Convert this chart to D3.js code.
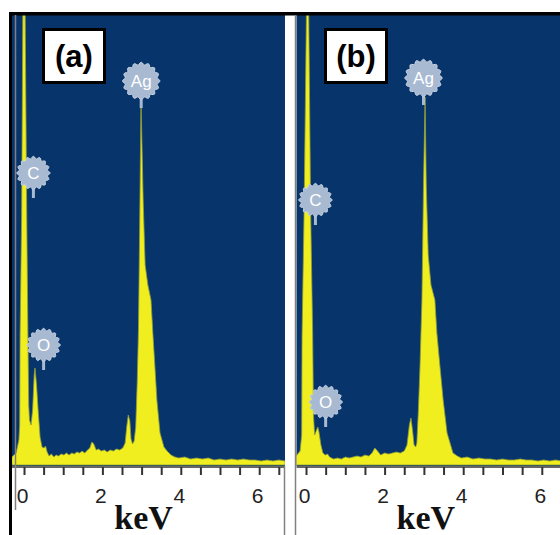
<!DOCTYPE html>
<html>
<head>
<meta charset="utf-8">
<script src="https://cdnjs.cloudflare.com/ajax/libs/d3/7.8.5/d3.min.js"></script>
<style>
  body { margin: 0; background: #fff; }
  svg { display: block; }
</style>
</head>
<body>
<div id="chart"></div>
<script>
// EDS spectrum (a): energy in keV, counts in arbitrary units
var energyA = [-0.31,-0.20,-0.13,-0.11,-0.10,-0.06,-0.03,0.00,0.03,0.07,0.10,0.12,0.14,0.18,0.22,0.26,0.28,0.32,0.36,0.41,0.46,0.51,
  0.55,0.59,0.64,0.70,0.76,0.82,0.88,0.95,1.02,1.08,1.15,1.22,1.28,1.35,1.42,1.48,1.55,1.62,1.68,1.73,
  1.78,1.84,1.90,1.97,2.05,2.12,2.20,2.28,2.36,2.44,2.52,2.58,2.62,2.66,2.70,2.73,2.77,2.81,2.85,2.89,
  2.92,2.95,2.985,3.04,3.09,3.16,3.24,3.29,3.34,3.39,3.47,3.57,3.65,3.75,3.85,3.95,4.10,4.25,4.40,4.55,
  4.70,4.85,5.00,5.15,5.30,5.45,5.60,5.75,5.90,6.05,6.20,6.35,6.50,6.66];
var countsA = [8,12,25,40,130,250,450,1200,450,250,130,60,45,40,55,90,97,80,55,28,18,17,
  19,13,9,11,8,10,9,11,10,12,10,12,11,13,12,14,12,15,17,23,
  21,15,16,14,15,13,15,14,16,15,17,22,38,50,44,26,21,24,38,85,
  135,235,365,265,200,180,165,130,98,65,32,18,14,10,8,7,8,6,7,6,
  7,5,6,5,6,5,6,5,5,4,5,4,5,4];

// EDS spectrum (b)
var energyB = [-0.27,-0.15,-0.11,-0.10,-0.05,0.01,0.04,0.07,0.12,0.17,0.19,0.22,0.26,0.30,0.33,0.38,0.43,0.49,0.55,0.60,
  0.70,0.80,0.90,1.00,1.10,1.20,1.30,1.40,1.50,1.60,1.68,1.75,1.82,1.90,2.00,2.10,2.20,2.30,2.40,2.50,
  2.57,2.63,2.67,2.71,2.75,2.79,2.82,2.86,2.90,2.95,2.99,3.03,3.06,3.11,3.18,3.28,3.33,3.41,3.49,3.59,
  3.74,3.85,3.95,4.10,4.25,4.40,4.55,4.70,4.85,5.00,5.15,5.30,5.45,5.60,5.75,5.90,6.05,6.20,6.35,6.50,
  6.65,6.75];
var countsB = [8,14,30,130,250,450,1200,450,250,130,50,30,34,38,33,20,12,10,11,8,
  6,7,6,8,7,8,9,8,10,9,12,17,14,10,12,11,12,13,12,14,
  20,40,47,35,20,18,22,55,98,165,280,368,280,210,180,165,132,98,65,32,
  12,9,7,8,6,7,6,6,5,6,5,5,6,5,5,4,5,4,5,4,
  4,4];

// element markers: energy and marker height (counts) in each panel
var elements = ["C", "O", "Ag"];
var elementEnergy = [0.24, 0.5, 2.99];
var markerCountsA = [292, 120, 384];
var markerCountsB = [265, 63, 387];

// x axis ticks every 0.5 keV, labels on even values
var tickValues = [0, 0.5, 1, 1.5, 2, 2.5, 3, 3.5, 4, 4.5, 5, 5.5, 6, 6.5];
var labelledTicks = [0, 2, 4, 6];
var panelNames = ["(a)", "(b)"];

var svgWidth = 560;
var svgHeight = 535;
var plotTop = 15;
var plotBottom = 466;

var svg = d3.select("#chart")
  .append("svg")
  .attr("width", svgWidth)
  .attr("height", svgHeight);

svg.append("rect")
  .attr("width", svgWidth)
  .attr("height", svgHeight)
  .attr("fill", "#fff");

// y scale shared by both spectra
var yScale = d3.scaleLinear()
  .domain([0, 450])
  .range([465, plotTop]);

var panels = [
  { name: panelNames[0], x0: 24, kev: 39.2, left: 12, right: 285, energy: energyA, counts: countsA, markers: markerCountsA },
  { name: panelNames[1], x0: 306, kev: 39.3, left: 296.5, right: 570, energy: energyB, counts: countsB, markers: markerCountsB }
];

// scalloped marker shape like the EDS label badges
function badgePath(r) {
  var pts = d3.range(0, 96).map(function(i) {
    var a = i / 96 * 2 * Math.PI;
    return [a, r + 1.2 * Math.cos(16 * a)];
  });
  return d3.lineRadial().curve(d3.curveCardinalClosed)(pts);
}

panels.forEach(function(p, pi) {
  var xScale = d3.scaleLinear()
    .domain([0, 6])
    .range([p.x0, p.x0 + 6 * p.kev]);

  var g = svg.append("g");

  // clip for the plot area
  var clipId = "clip" + pi;
  svg.append("clipPath")
    .attr("id", clipId)
    .append("rect")
    .attr("x", p.left)
    .attr("y", plotTop)
    .attr("width", p.right - p.left)
    .attr("height", plotBottom - plotTop);

  // dark blue background
  g.append("rect")
    .attr("x", p.left)
    .attr("y", plotTop)
    .attr("width", p.right - p.left)
    .attr("height", plotBottom - plotTop)
    .attr("fill", "#07356b");

  var data = p.energy.map(function(e, i) { return { e: e, c: p.counts[i] }; });

  var area = d3.area()
    .x(d => xScale(d.e))
    .y0(yScale(0))
    .y1(d => yScale(d.c));

  g.append("path")
    .datum(data)
    .attr("clip-path", "url(#" + clipId + ")")
    .attr("d", area)
    .attr("fill", "#f0ee1e")
    .attr("stroke", "#8d9a3c")
    .attr("stroke-width", 0.8);

  // element badges
  var badges = g.selectAll(".badge")
    .data(elements.map(function(el, i) { return { el: el, e: elementEnergy[i], c: p.markers[i] }; }))
    .enter()
    .append("g")
    .attr("class", "badge")
    .attr("transform", d => `translate(${xScale(d.e)}, ${yScale(d.c)})`);

  badges.append("line")
    .attr("x1", 0).attr("x2", 0)
    .attr("y1", 10)
    .attr("y2", d => (d.el === "Ag" ? 18 : 16) + 9)
    .attr("stroke", "#a8b9d2")
    .attr("stroke-width", 3);

  badges.append("path")
    .attr("d", d => badgePath(d.el === "Ag" ? 17.5 : 15.5))
    .attr("fill", "#a8b9d2")
    .attr("stroke", "#c9d4e4")
    .attr("stroke-width", 1);

  badges.append("text")
    .attr("text-anchor", "middle")
    .attr("dy", "0.36em")
    .attr("font-family", "Liberation Sans, Arial, sans-serif")
    .attr("font-size", "17px")
    .attr("fill", "#fff")
    .text(d => d.el);

  // panel label box
  g.append("rect")
    .attr("x", p.x0 + 19.5)
    .attr("y", 29.5)
    .attr("width", 61)
    .attr("height", 53)
    .attr("fill", "#fff")
    .attr("stroke", "#000")
    .attr("stroke-width", 3);

  g.append("text")
    .attr("x", p.x0 + 50)
    .attr("y", 56)
    .attr("dy", "0.36em")
    .attr("text-anchor", "middle")
    .attr("font-family", "Liberation Sans, Arial, sans-serif")
    .attr("font-weight", "bold")
    .attr("font-size", "31px")
    .attr("fill", "#000")
    .text(p.name);

  // bottom axis
  var bottomAxis = d3.axisBottom(xScale)
    .tickValues(tickValues)
    .tickSize(8)
    .tickSizeOuter(0)
    .tickPadding(13)
    .tickFormat(d => labelledTicks.indexOf(d) >= 0 ? d : "");

  var axisG = g.append("g")
    .attr("transform", `translate(0, ${plotBottom + 1})`)
    .call(bottomAxis);

  axisG.select(".domain").remove();
  axisG.selectAll(".tick line")
    .attr("stroke", "#333")
    .attr("stroke-width", 2);
  axisG.selectAll(".tick text")
    .attr("dx", "-2px")
    .attr("font-family", "Liberation Sans, Arial, sans-serif")
    .attr("font-size", "21px")
    .attr("fill", "#222");

  g.append("line")
    .attr("x1", p.left).attr("x2", p.right)
    .attr("y1", plotBottom + 1).attr("y2", plotBottom + 1)
    .attr("stroke", "#333")
    .attr("stroke-width", 1.5);

  g.append("text")
    .attr("x", xScale(3.05))
    .attr("y", 529)
    .attr("text-anchor", "middle")
    .attr("font-family", "Liberation Serif, Times New Roman, serif")
    .attr("font-weight", "bold")
    .attr("font-size", "34px")
    .attr("fill", "#111")
    .text("keV");
});

// frame lines
svg.append("rect").attr("x", 9).attr("y", 12).attr("width", 551).attr("height", 3.5).attr("fill", "#000");
svg.append("rect").attr("x", 9).attr("y", 12).attr("width", 3).attr("height", 523).attr("fill", "#000");
svg.append("line").attr("x1", 15.5).attr("x2", 15.5).attr("y1", 15).attr("y2", 510)
  .attr("stroke", "#808080").attr("stroke-width", 1.5);
svg.append("line").attr("x1", 284.5).attr("x2", 284.5).attr("y1", plotBottom).attr("y2", 535)
  .attr("stroke", "#808080").attr("stroke-width", 1.5);
svg.append("line").attr("x1", 295.5).attr("x2", 295.5).attr("y1", 15).attr("y2", 535)
  .attr("stroke", "#808080").attr("stroke-width", 1.5);
</script>
</body>
</html>
